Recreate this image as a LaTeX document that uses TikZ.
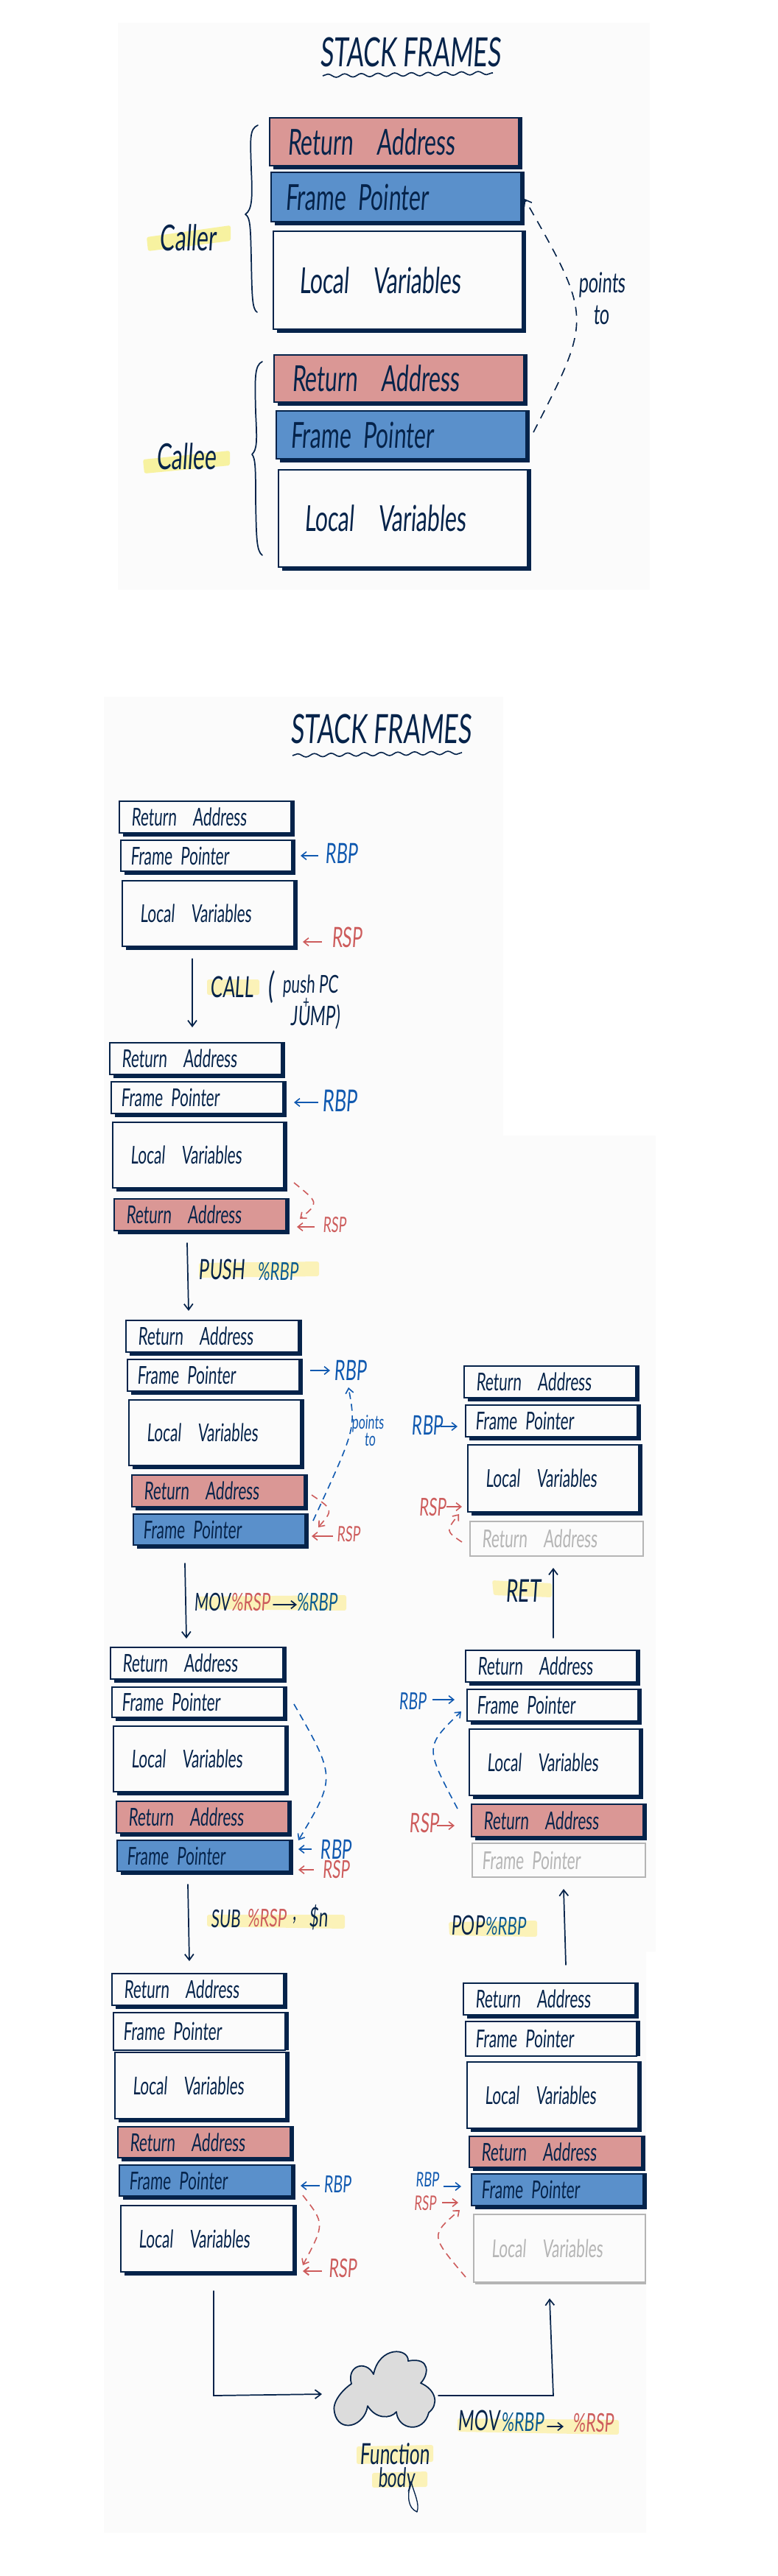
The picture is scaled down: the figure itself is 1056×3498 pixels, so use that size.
\documentclass[tikz,border=0pt]{standalone}
\usepackage{fontspec}
\usetikzlibrary{arrows.meta,calc,decorations.pathmorphing}
\newfontfamily\hand[FakeStretch=0.62,FakeSlant=0.07]{Lato}
\newcommand{\fs}[1]{\pgfmathsetmacro\fsz{#1*1.14}\fontsize{\fsz}{\fsz}\selectfont}
\definecolor{navy}{HTML}{05234A}
\definecolor{panel}{HTML}{FBFBFB}
\definecolor{rafill}{HTML}{DA9795}
\definecolor{fpfill}{HTML}{5A90CB}
\definecolor{redT}{HTML}{CD5C5C}
\definecolor{blueT}{HTML}{1059B0}
\definecolor{tealT}{HTML}{0A5A90}
\definecolor{hlA}{HTML}{F7F2A0}
\definecolor{hlB}{HTML}{FBF2B8}
\definecolor{grayL}{HTML}{B5B5B5}
\definecolor{cloudF}{HTML}{DCDCDC}
\tikzset{
  framebox/.style={draw=navy,line width=1.2pt,anchor=north west,outer sep=0pt,inner ysep=0pt,align=left,text=navy,font=\hand\fs{22}},
  ra/.style={fill=rafill},
  fp/.style={fill=fpfill},
  lv/.style={fill=panel},
  ghost/.style={draw=grayL,text=grayL,fill=panel},
  topf/.style={font=\hand\fs{32}},
  lbl/.style={inner sep=0pt,font=\hand\fs{24},text=navy},
  flow/.style={draw=navy,line width=1.3pt,-{Straight Barb[length=6pt,width=9pt]},line cap=round},
  line/.style={draw=navy,line width=1.3pt,line cap=round,line join=round},
  rarrow/.style={draw=redT,line width=1.2pt,-{Straight Barb[length=5pt,width=8pt]}},
  barrow/.style={draw=blueT,line width=1.2pt,-{Straight Barb[length=5pt,width=8pt]}},
  rdash/.style={rarrow,dash pattern=on 7pt off 5pt},
  bdash/.style={barrow,dash pattern=on 7pt off 5pt},
  squig/.style={draw=navy,line width=1.2pt,decorate,decoration={snake,amplitude=1.7pt,segment length=17pt}},
}
\newcommand{\frm}[8]{%
  \pgfmathsetmacro\fw{(#4-#2)*0.75}\pgfmathsetmacro\fh{(#5-#3)*0.75}\pgfmathsetmacro\ft{\fw-1.5*#7}%
  \node[framebox,#6,minimum width=\fw pt,minimum height=\fh pt,text width=\ft pt,inner xsep=#7*0.75pt] (#1) at (#2,#3) {#8};}
\newcommand{\shad}[2]{\draw[#2,line width=3.4pt] ([shift={(5,3)}]#1.south west) -- ([shift={(3,3)}]#1.south east) -- ([shift={(3,-1)}]#1.north east);}
\newcommand{\shadr}[2]{\draw[#2,line width=3.4pt] ([shift={(3,0)}]#1.south east) -- ([shift={(3,-1)}]#1.north east);}
\newcommand{\arr}[4]{\coordinate (#1s) at (#3);\coordinate (#1e) at (#4);\draw[#2] (#1s) -- (#1e);}
\newcommand{\carr}[5]{\coordinate (#1s) at (#3);\coordinate (#1v) at (#4);\coordinate (#1e) at (#5);\draw[#2] (#1s) .. controls ($2*(#1v)-0.5*(#1s)-0.5*(#1e)$) .. (#1e);}
\begin{document}
\begin{tikzpicture}[x=0.75pt,y=-0.75pt]
\useasboundingbox (0,0) rectangle (1056,3498);
\fill[white] (0,0) rectangle (1056,3498);
% panels
\fill[panel] (160,31) rectangle (882,801);
\fill[panel] (141,946) -- (683,946) -- (683,1542) -- (890,1542) -- (890,2650) -- (877,2650) -- (877,3439) -- (141,3439) -- cycle;
% highlights
\fill[hlA,rounded corners=2pt] (199,322) -- (313,306) -- (313,327) -- (201,341) -- cycle;
\fill[hlA,rounded corners=2pt] (194,624) -- (312,612) -- (312,632) -- (196,643) -- cycle;
\fill[hlB,rounded corners=2pt] (281,1330) rectangle (352,1351);
\fill[hlB,rounded corners=2pt] (270,1715) -- (433,1713) -- (433,1733) -- (270,1735) -- cycle;
\fill[hlB,rounded corners=2pt] (269,2168) -- (470,2166) -- (470,2187) -- (269,2185) -- cycle;
\fill[hlB,rounded corners=2pt] (668,2146) -- (749,2150) -- (749,2169) -- (670,2166) -- cycle;
\fill[hlB,rounded corners=2pt] (281,2600) -- (468,2600) -- (468,2619) -- (281,2616) -- cycle;
\fill[hlB,rounded corners=2pt] (609,2610) -- (729,2608) -- (729,2630) -- (610,2628) -- cycle;
\fill[hlB,rounded corners=2pt] (621,3284) -- (840,3286) -- (840,3306) -- (621,3302) -- cycle;
\fill[hlB,rounded corners=2pt] (484,3322) -- (588,3320) -- (588,3343) -- (484,3346) -- cycle;
\fill[hlB,rounded corners=2pt] (505,3358) -- (580,3356) -- (580,3377) -- (505,3378) -- cycle;
% top diagram
\node[lbl,font=\hand\fs{36}] (t1) at (557,71) {STACK FRAMES};
\coordinate (s1a) at (438,103);\coordinate (s1b) at (669,99);
\draw[squig] (s1a) -- (s1b);
\frm{tRA}{366}{160}{704}{225}{ra,topf}{24}{Return\ \ Address}\shad{tRA}{navy}
\frm{tFP}{368}{234}{707}{301}{fp,topf}{19}{Frame Pointer}\shad{tFP}{navy}
\frm{tLV}{371}{314}{709}{447}{lv,topf}{35}{Local\ \ Variables}\shad{tLV}{navy}
\frm{uRA}{372}{482}{711}{546}{ra,topf}{24}{Return\ \ Address}\shad{uRA}{navy}
\frm{uFP}{375}{558}{714}{623}{fp,topf}{19}{Frame Pointer}\shad{uFP}{navy}
\frm{uLV}{378}{638}{716}{770}{lv,topf}{35}{Local\ \ Variables}\shad{uLV}{navy}
\node[lbl,font=\hand\fs{32}] (caller) at (255,323) {Caller};
\node[lbl,font=\hand\fs{32}] (callee) at (253,620) {Callee};
\draw[line] (350,170) .. controls (338,175) and (340,190) .. (341,230) .. controls (343,270) and (342,285) .. (333,291) .. controls (340,295) and (340,310) .. (341,350) .. controls (342,400) and (342,420) .. (349,424);
\draw[line] (356,491) .. controls (345,496) and (346,515) .. (347,560) .. controls (349,600) and (349,610) .. (342,617) .. controls (347,622) and (347,640) .. (347,680) .. controls (348,730) and (348,748) .. (356,754);
\carr{pt}{draw=navy,line width=1.2pt,-{Straight Barb[length=6pt,width=9pt]},dash pattern=on 9pt off 7pt}{724,587}{761,430}{712,270}
\node[lbl,font=\hand\fs{25}] (pts) at (817,387) {points};
\node[lbl,font=\hand\fs{25}] (ptt) at (816,428) {to};
% second title
\node[lbl,font=\hand\fs{36}] (t2) at (517,990) {STACK FRAMES};
\coordinate (s2a) at (397,1026);\coordinate (s2b) at (627,1022);
\draw[squig] (s2a) -- (s2b);
% stack A
\frm{aRA}{162}{1088}{395}{1131}{lv}{16}{Return\ \ Address}\shad{aRA}{navy}
\frm{aFP}{164}{1141}{396}{1183}{lv}{13}{Frame Pointer}\shad{aFP}{navy}
\frm{aLV}{166}{1196}{399}{1285}{lv}{24}{Local\ \ Variables}\shad{aLV}{navy}
\arr{a1}{barrow}{432,1162}{408,1162}
\node[lbl,text=blueT,font=\hand\fs{25}] (a1t) at (464,1159) {RBP};
\arr{a2}{rarrow}{437,1279}{411,1279}
\node[lbl,text=redT,font=\hand\fs{25}] (a2t) at (471,1273) {RSP};
\arr{f1}{flow}{261,1302}{261,1395}
\node[lbl,font=\hand\fs{26}] (call) at (315,1340) {CALL};
\node[lbl,font=\hand\fs{32}] (pa) at (368,1340) {(};
\node[lbl,font=\hand\fs{22}] (psh) at (421,1339) {push PC};
\node[lbl,font=\hand\fs{16}] (pl) at (415,1362) {+};
\node[lbl,font=\hand\fs{24}] (jmp) at (428,1381) {JUMP)};
% stack B
\frm{bRA}{149}{1416}{382}{1459}{lv}{16}{Return\ \ Address}\shad{bRA}{navy}
\frm{bFP}{151}{1469}{384}{1512}{lv}{13}{Frame Pointer}\shad{bFP}{navy}
\frm{bLV}{153}{1524}{385}{1613}{lv}{24}{Local\ \ Variables}\shad{bLV}{navy}
\frm{bRB}{155}{1628}{388}{1671}{ra}{16}{Return\ \ Address}\shad{bRB}{navy}
\arr{b1}{barrow}{432,1497}{399,1497}
\node[lbl,text=blueT,font=\hand\fs{27}] (b1t) at (461,1495) {RBP};
\carr{b2}{rdash}{399,1606}{418,1632}{407,1655}
\arr{b3}{rarrow}{427,1666}{403,1666}
\node[lbl,text=redT,font=\hand\fs{19}] (b3t) at (454,1663) {RSP};
\arr{f2}{flow}{254,1688}{256,1780}
\node[lbl,font=\hand\fs{25}] (push) at (301,1724) {PUSH};
\node[lbl,text=tealT,font=\hand\fs{22}] (pushr) at (377,1727) {\%RBP};
% stack C
\frm{cRA}{171}{1793}{405}{1836}{lv}{16}{Return\ \ Address}\shad{cRA}{navy}
\frm{cFP}{173}{1846}{406}{1889}{lv}{13}{Frame Pointer}\shad{cFP}{navy}
\frm{cLV}{175}{1901}{408}{1990}{lv}{24}{Local\ \ Variables}\shad{cLV}{navy}
\frm{cRB}{179}{2003}{413}{2046}{ra}{16}{Return\ \ Address}\shad{cRB}{navy}
\frm{cFB}{181}{2056}{414}{2098}{fp}{13}{Frame Pointer}\shad{cFB}{navy}
\arr{c1}{barrow}{421,1861}{448,1861}
\node[lbl,text=blueT,font=\hand\fs{25}] (c1t) at (476,1861) {RBP};
\carr{c2}{bdash}{425,2065}{466,1957}{473,1884}
\node[lbl,text=blueT,font=\hand\fs{17}] (c2t) at (499,1933) {points};
\node[lbl,text=blueT,font=\hand\fs{17}] (c3t) at (502,1955) {to};
\carr{c4}{rdash}{423,2030}{440,2051}{432,2074}
\arr{c5}{rarrow}{452,2086}{423,2086}
\node[lbl,text=redT,font=\hand\fs{19}] (c5t) at (473,2083) {RSP};
\arr{f3}{flow}{251,2123}{253,2225}
\node[lbl,font=\hand\fs{22}] (mov1) at (288,2175) {MOV};
\node[lbl,text=redT,font=\hand\fs{22}] (mov1a) at (340,2175) {\%RSP};
\arr{m1}{line,-{Straight Barb[length=5pt,width=8pt]}}{371,2179}{403,2179}
\node[lbl,text=tealT,font=\hand\fs{22}] (mov1b) at (430,2176) {\%RBP};
% stack D
\frm{dRA}{150}{2237}{384}{2280}{lv}{16}{Return\ \ Address}\shad{dRA}{navy}
\frm{dFP}{152}{2291}{385}{2332}{lv}{13}{Frame Pointer}\shad{dFP}{navy}
\frm{dLV}{154}{2344}{387}{2433}{lv}{24}{Local\ \ Variables}\shad{dLV}{navy}
\frm{dRB}{158}{2446}{391}{2489}{ra}{16}{Return\ \ Address}\shad{dRB}{navy}
\frm{dFB}{159}{2499}{393}{2541}{fp}{13}{Frame Pointer}\shad{dFB}{navy}
\carr{d1}{bdash}{399,2314}{429,2410}{405,2499}
\arr{d2}{barrow}{423,2511}{405,2511}
\node[lbl,text=blueT,font=\hand\fs{24}] (d2t) at (456,2511) {RBP};
\arr{d3}{rarrow}{426,2539}{405,2539}
\node[lbl,text=redT,font=\hand\fs{22}] (d3t) at (456,2538) {RSP};
\arr{f4}{flow}{255,2559}{257,2663}
\node[lbl,font=\hand\fs{22}] (sub) at (306,2605) {SUB};
\node[lbl,text=redT,font=\hand\fs{22}] (subr) at (362,2604) {\%RSP};
\node[lbl,font=\hand\fs{24}] (subc) at (400,2608) {,};
\node[lbl,font=\hand\fs{24}] (subn) at (432,2604) {\$n};
% stack E
\frm{eRA}{152}{2680}{385}{2723}{lv}{16}{Return\ \ Address}\shad{eRA}{navy}
\frm{eFP}{154}{2733}{387}{2784}{lv}{13}{Frame Pointer}\shadr{eFP}{navy}
\frm{eLV}{156}{2787}{388}{2877}{lv}{24}{Local\ \ Variables}\shad{eLV}{navy}
\frm{eRB}{160}{2888}{394}{2930}{ra}{16}{Return\ \ Address}\shad{eRB}{navy}
\frm{eFB}{162}{2940}{396}{2982}{fp}{13}{Frame Pointer}\shad{eFB}{navy}
\frm{eLB}{164}{2995}{398}{3085}{lv}{24}{Local\ \ Variables}\shad{eLB}{navy}
\arr{e1}{barrow}{434,2968}{408,2968}
\node[lbl,text=blueT,font=\hand\fs{21}] (e1t) at (458,2966) {RBP};
\carr{e2}{rdash}{411,2981}{426,3024}{411,3076}
\arr{e3}{rarrow,line width=1.5pt}{437,3084}{411,3084}
\node[lbl,text=redT,font=\hand\fs{23}] (e3t) at (465,3080) {RSP};
% cloud and flow
\coordinate (fa) at (290,3111);\coordinate (fb) at (290,3253);\coordinate (fc) at (437,3251);
\draw[flow] (fa) -- (fb) -- (fc);
\draw[draw=navy,line width=1.3pt,fill=cloudF,line join=round] (477,3237) .. controls (470,3212) and (497,3204) .. (507,3224) .. controls (515,3185) and (555,3188) .. (554,3206) .. controls (585,3200) and (582,3225) .. (571,3236) .. controls (592,3245) and (596,3265) .. (582,3276) .. controls (575,3305) and (540,3300) .. (538,3275) .. controls (530,3285) and (510,3285) .. (499,3267) .. controls (495,3295) and (460,3305) .. (454,3276) .. controls (450,3262) and (465,3245) .. (477,3237) -- cycle;
\coordinate (ga) at (595,3253);\coordinate (gb) at (751,3253);\coordinate (gc) at (746,3121);
\draw[flow] (ga) -- (gb) -- (gc);
\node[lbl,font=\hand\fs{26}] (fn) at (536,3332) {Function};
\node[lbl,font=\hand\fs{24}] (bd) at (538,3367) {body};
\draw[line,line width=1pt] (557,3370) .. controls (553,3390) and (553,3405) .. (566,3411) .. controls (570,3400) and (562,3385) .. (558,3370);
\node[lbl,font=\hand\fs{25}] (mov2) at (650,3287) {MOV};
\node[lbl,text=tealT,font=\hand\fs{23}] (mov2a) at (709,3289) {\%RBP};
\arr{m2}{line,-{Straight Barb[length=5pt,width=8pt]}}{743,3295}{765,3295}
\node[lbl,text=redT,font=\hand\fs{23}] (mov2b) at (805,3290) {\%RSP};
% stack H
\frm{hRA}{629}{2693}{862}{2736}{lv}{16}{Return\ \ Address}\shad{hRA}{navy}
\frm{hFP}{632}{2745}{864}{2792}{lv}{13}{Frame Pointer}\shadr{hFP}{navy}
\frm{hLV}{634}{2800}{866}{2890}{lv}{24}{Local\ \ Variables}\shad{hLV}{navy}
\frm{hRB}{637}{2901}{871}{2943}{ra}{16}{Return\ \ Address}\shad{hRB}{navy}
\frm{hFB}{640}{2952}{873}{2995}{fp}{13}{Frame Pointer}\shad{hFB}{navy}
\frm{hLB}{643}{3007}{876}{3099}{ghost}{24}{Local\ \ Variables}
\draw[grayL,line width=1.8pt] ([shift={(2,2)}]hLB.south west) -- ([shift={(1,2)}]hLB.south east);
\node[lbl,text=blueT,font=\hand\fs{18}] (h1t) at (580,2960) {RBP};
\arr{h1}{barrow}{602,2969}{626,2969}
\node[lbl,text=redT,font=\hand\fs{18}] (h2t) at (577,2992) {RSP};
\arr{h2}{rarrow}{600,2991}{622,2991}
\carr{h3}{rdash}{632,3092}{606,3041}{624,3001}
\arr{f5}{flow}{768,2668}{765,2565}
\node[lbl,font=\hand\fs{24}] (pop) at (635,2614) {POP};
\node[lbl,text=tealT,font=\hand\fs{22}] (popr) at (686,2616) {\%RBP};
% stack G
\frm{gRA}{632}{2241}{864}{2284}{lv}{16}{Return\ \ Address}\shad{gRA}{navy}
\frm{gFP}{634}{2294}{866}{2337}{lv}{13}{Frame Pointer}\shad{gFP}{navy}
\frm{gLV}{637}{2348}{868}{2438}{lv}{24}{Local\ \ Variables}\shad{gLV}{navy}
\frm{gRB}{640}{2450}{873}{2494}{ra}{16}{Return\ \ Address}\shad{gRB}{navy}
\frm{gFB}{641}{2503}{876}{2549}{ghost}{13}{Frame Pointer}
\carr{g1}{bdash}{621,2456}{600,2381}{626,2324}
\node[lbl,text=blueT,font=\hand\fs{21}] (g2t) at (560,2310) {RBP};
\arr{g2}{barrow}{587,2308}{617,2308}
\node[lbl,text=redT,font=\hand\fs{24}] (g3t) at (576,2475) {RSP};
\arr{g3}{rarrow}{593,2479}{617,2479}
\arr{f6}{flow}{751,2224}{751,2129}
\node[lbl,font=\hand\fs{28}] (ret) at (710,2160) {RET};
% stack F
\frm{kRA}{630}{1855}{863}{1898}{lv}{16}{Return\ \ Address}\shad{kRA}{navy}
\frm{kFP}{632}{1908}{865}{1951}{lv}{13}{Frame Pointer}\shad{kFP}{navy}
\frm{kLV}{635}{1962}{867}{2053}{lv}{24}{Local\ \ Variables}\shad{kLV}{navy}
\frm{kRB}{638}{2066}{873}{2113}{ghost}{16}{Return\ \ Address}
\node[lbl,text=blueT,font=\hand\fs{24}] (k1t) at (580,1935) {RBP};
\arr{k1}{barrow}{598,1937}{621,1937}
\node[lbl,text=redT,font=\hand\fs{22}] (k2t) at (587,2046) {RSP};
\arr{k2}{rarrow}{606,2046}{627,2046}
\carr{k3}{rdash}{627,2094}{615,2077}{623,2056}
\end{tikzpicture}
\end{document}
